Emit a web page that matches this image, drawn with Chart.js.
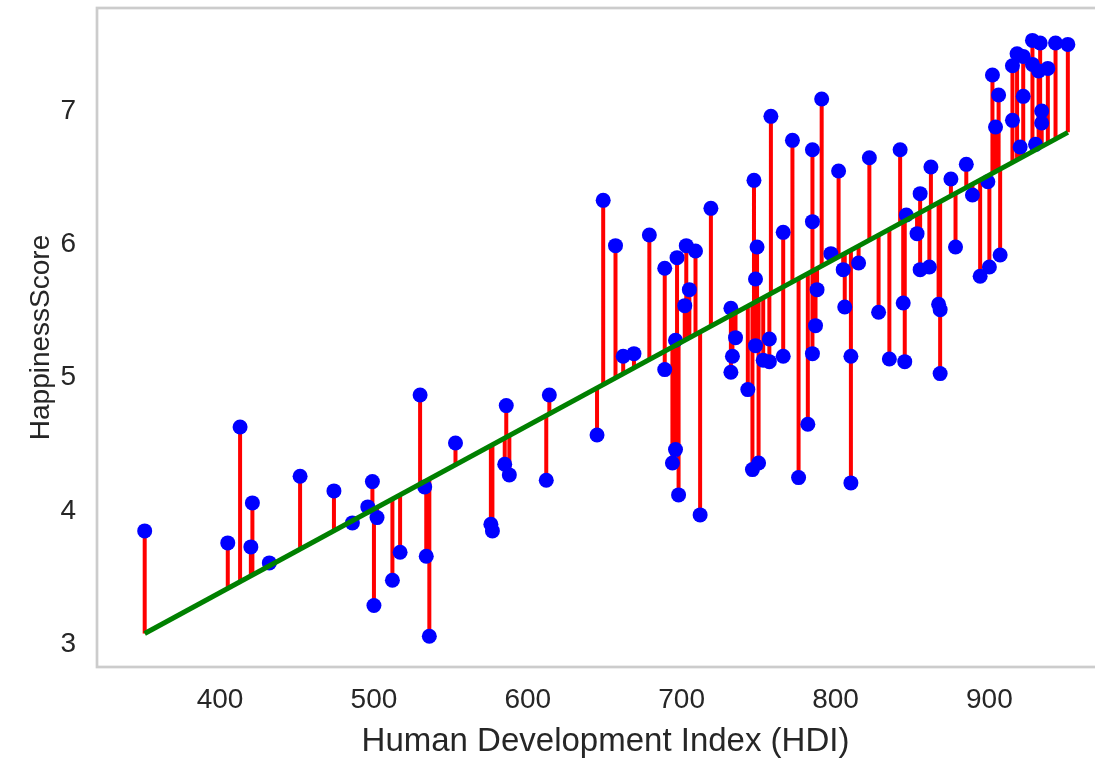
<!DOCTYPE html>
<html>
<head>
<meta charset="utf-8">
<title>HDI vs HappinessScore</title>
<script src="https://cdn.jsdelivr.net/npm/chart.js@4/dist/chart.umd.min.js"></script>
<style>
    html, body { margin: 0; padding: 0; background: #ffffff; overflow: hidden; }
    #wrap { width: 1114px; height: 762px; position: relative; }
</style>
</head>
<body>
<div id="wrap"><canvas id="hdi-happiness-chart"></canvas></div>
<script>
// valores
const hdiValues = [
    351, 405, 413, 420, 421, 432, 452, 474, 486, 496,
    499, 500, 502, 512, 517, 530, 533, 534, 536, 553,
    576, 577, 585, 586, 588, 612, 614, 645, 649, 657,
    662, 669, 679, 689, 689, 694, 696, 696, 697, 698,
    702, 703, 705, 709, 712, 719, 732, 732, 733, 735,
    743, 746, 747, 748, 748, 749, 750, 753, 757, 757,
    758, 766, 766, 772, 776, 782, 785, 785, 785, 787,
    788, 791, 797, 802, 805, 806, 810, 810, 815, 822,
    828, 835, 842, 844, 845, 846, 853, 855, 855, 861,
    862, 867, 868, 868, 875, 878, 885, 889, 894, 899,
    900, 902, 904, 906, 907, 915, 915, 918, 920, 922,
    922, 928, 928, 930, 932, 933, 934, 934, 938, 943,
    951
];

const happinessValues = [
    3.85, 3.76, 4.63, 3.73, 4.06, 3.61, 4.26, 4.15, 3.91, 4.03,
    4.22, 3.29, 3.95, 3.48, 3.69, 4.87, 4.18, 3.66, 3.06, 4.51,
    3.90, 3.85, 4.35, 4.79, 4.27, 4.23, 4.87, 4.57, 6.33, 5.99,
    5.16, 5.18, 6.07, 5.82, 5.06, 4.36, 4.46, 5.28, 5.90, 4.12,
    5.54, 5.99, 5.66, 5.95, 3.97, 6.27, 5.52, 5.04, 5.16, 5.30,
    4.91, 4.31, 6.48, 5.74, 5.24, 5.98, 4.36, 5.13, 5.12, 5.29,
    6.96, 6.09, 5.16, 6.78, 4.25, 4.65, 6.71, 6.17, 5.18, 5.39,
    5.66, 7.09, 5.93, 6.55, 5.81, 5.53, 5.16, 4.21, 5.86, 6.65,
    5.49, 5.14, 6.71, 5.56, 5.12, 6.22, 6.08, 6.38, 5.81, 5.83,
    6.58, 5.55, 5.51, 5.03, 6.49, 5.98, 6.60, 6.37, 5.76, 6.47,
    5.83, 7.27, 6.88, 7.12, 5.92, 6.93, 7.34, 7.43, 6.73, 7.11,
    7.41, 7.53, 7.35, 6.75, 7.30, 7.51, 7.00, 6.91, 7.32, 7.51,
    7.50
];

// reta de regressao (extremos)
const fitHdi = [351, 951];
const fitHappiness = [3.08, 6.84];

const xTickValues = [400, 500, 600, 700, 800, 900];
const yTickValues = [3, 4, 5, 6, 7];

const fontFamily = "'Liberation Sans', Arial, sans-serif";
const textColor = '#262626';

const fitAt = (x) => {
    const slope = (fitHappiness[1] - fitHappiness[0]) / (fitHdi[1] - fitHdi[0]);
    return fitHappiness[0] + (x - fitHdi[0]) * slope;
};

const buildResidualData = () => {
    const data = [];
    hdiValues.forEach((x, i) => {
        data.push({ x: x, y: happinessValues[i] });
        data.push({ x: x, y: fitAt(x) });
        data.push({ x: x, y: null });
    });
    return data;
};

// moldura cinza em volta da area do grafico
const framePlugin = {
    id: 'frame',
    afterDraw: (chart) => {
        const { ctx, chartArea } = chart;
        ctx.save();
        ctx.strokeStyle = '#cccccc';
        ctx.lineWidth = 2.7;
        ctx.strokeRect(chartArea.left, chartArea.top, chartArea.right - chartArea.left, chartArea.bottom - chartArea.top);
        ctx.restore();
    }
};

const drawChart = () => {
    const chartData = {
        datasets: [
            {
                type: 'line',
                label: 'Regressao',
                data: fitHdi.map((x, i) => ({ x: x, y: fitHappiness[i] })),
                borderColor: '#008000',
                borderWidth: 5,
                pointRadius: 0,
                order: 0
            },
            {
                type: 'scatter',
                label: 'Paises',
                data: hdiValues.map((x, i) => ({ x: x, y: happinessValues[i] })),
                backgroundColor: '#0000ff',
                borderWidth: 0,
                pointRadius: 7.5,
                order: 1
            },
            {
                type: 'line',
                label: 'Residuos',
                data: buildResidualData(),
                borderColor: '#ff0000',
                borderWidth: 4,
                pointRadius: 0,
                spanGaps: false,
                order: 2
            }
        ]
    };

    const config = {
        type: 'scatter',
        data: chartData,
        plugins: [framePlugin],
        options: {
            responsive: true,
            maintainAspectRatio: false,
            animation: false,
            layout: {
                autoPadding: false,
                padding: { top: 8, left: 0, right: 0, bottom: 0 }
            },
            plugins: {
                legend: { display: false },
                tooltip: { enabled: false }
            },
            scales: {
                x: {
                    type: 'linear',
                    min: 320,
                    max: 981,
                    grid: { display: false, drawTicks: false },
                    border: { display: false },
                    afterBuildTicks: (scale) => {
                        scale.ticks = xTickValues.map(v => ({ value: v }));
                    },
                    afterFit: (scale) => {
                        scale.height = 95;
                        scale.paddingLeft = 0;
                        scale.paddingRight = 0;
                    },
                    ticks: {
                        padding: 16,
                        color: textColor,
                        font: { family: fontFamily, size: 28 }
                    },
                    title: {
                        display: true,
                        text: 'Human Development Index (HDI)',
                        color: textColor,
                        font: { family: fontFamily, size: 33 },
                        padding: { top: 0, bottom: 0 }
                    }
                },
                y: {
                    type: 'linear',
                    min: 2.829,
                    max: 7.773,
                    grid: { display: false, drawTicks: false },
                    border: { display: false },
                    afterBuildTicks: (scale) => {
                        scale.ticks = yTickValues.map(v => ({ value: v }));
                    },
                    afterFit: (scale) => {
                        scale.width = 97;
                        scale.paddingTop = 0;
                        scale.paddingBottom = 0;
                    },
                    ticks: {
                        padding: 21,
                        color: textColor,
                        font: { family: fontFamily, size: 28 }
                    },
                    title: {
                        display: true,
                        text: 'HappinessScore',
                        color: textColor,
                        font: { family: fontFamily, size: 28 },
                        padding: { top: 24, bottom: 0 }
                    }
                }
            }
        }
    };

    const ctx = document.getElementById('hdi-happiness-chart').getContext('2d');
    new Chart(ctx, config);
};

document.addEventListener('DOMContentLoaded', () => {
    drawChart();
});
</script>
</body>
</html>
